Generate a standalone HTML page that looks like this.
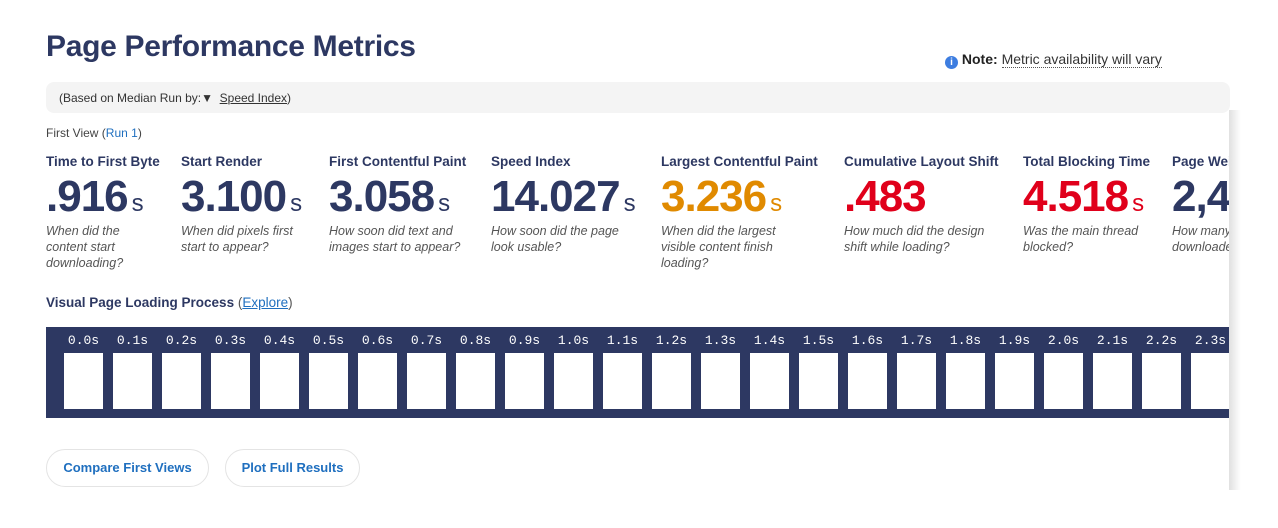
<!DOCTYPE html>
<html><head><meta charset="utf-8"><style>
*{margin:0;padding:0;box-sizing:border-box}
body{width:1278px;height:528px;background:#fff;font-family:"Liberation Sans",sans-serif;color:#2d3862;position:relative;overflow:hidden}
.a{position:absolute;white-space:nowrap}
h1{position:absolute;left:46px;top:30px;font-size:30px;font-weight:bold;color:#2d3862;letter-spacing:-0.3px}
.bar{position:absolute;left:46px;top:82px;width:1184px;height:31px;background:#f4f4f4;border-radius:8px}
.m{position:absolute;top:154px}
.m .h{font-size:13.5px;font-weight:bold;white-space:nowrap;height:17px}
.m .v{font-size:44px;font-weight:bold;line-height:44px;height:44px;margin-top:4px;letter-spacing:-1px;white-space:nowrap}
.m .v span{font-size:24px;font-weight:normal;letter-spacing:0;margin-left:4px;line-height:0}
.m .d{font-size:12.5px;font-style:italic;color:#555;line-height:16px;margin-top:4px}
.fs{position:absolute;left:46px;top:327px;width:1184px;height:91px;background:#2d3862;overflow:hidden}
.fr{position:absolute;top:26px;width:39px;height:56px;background:#fff}
.lb{position:absolute;top:6px;width:49px;text-align:center;color:#fff;font-family:"Liberation Mono",monospace;font-size:13px}
.btn{position:absolute;top:449px;height:38px;border:1px solid #e4e4e4;border-radius:19px;font-size:13px;font-weight:bold;color:#1f6fbf;line-height:36px;text-align:center}
.shade{position:absolute;left:1229px;top:110px;width:49px;height:380px;background:linear-gradient(to right,rgba(0,0,0,0.12),rgba(255,255,255,0) 12px),#fff}
</style></head><body>
<h1>Page Performance Metrics</h1>
<div class="a" style="left:945px;top:51px;font-size:14px;color:#333"><span style="display:inline-block;width:13px;height:13px;border-radius:50%;background:#3d7de0;color:#fff;font-size:10px;text-align:center;line-height:13px;font-weight:bold;vertical-align:-1px">i</span> <b style="color:#222">Note:</b> <span style="border-bottom:1px dotted #555">Metric availability will vary</span></div>
<div class="bar"></div>
<div class="a" style="left:59px;top:91px;font-size:12px;color:#333">(Based on Median Run by:▼ &nbsp;<span style="text-decoration:underline">Speed Index</span>)</div>
<div class="a" style="left:46px;top:126px;font-size:12px;color:#444">First View (<span style="color:#1f6fbf">Run 1</span>)</div>

<div class="m" style="left:46px"><div class="h">Time to First Byte</div><div class="v">.916<span>s</span></div><div class="d">When did the<br>content start<br>downloading?</div></div>
<div class="m" style="left:181px"><div class="h">Start Render</div><div class="v">3.100<span>s</span></div><div class="d">When did pixels first<br>start to appear?</div></div>
<div class="m" style="left:329px"><div class="h">First Contentful Paint</div><div class="v">3.058<span>s</span></div><div class="d">How soon did text and<br>images start to appear?</div></div>
<div class="m" style="left:491px"><div class="h">Speed Index</div><div class="v">14.027<span>s</span></div><div class="d">How soon did the page<br>look usable?</div></div>
<div class="m" style="left:661px"><div class="h">Largest Contentful Paint</div><div class="v" style="color:#e08a00">3.236<span>s</span></div><div class="d">When did the largest<br>visible content finish<br>loading?</div></div>
<div class="m" style="left:844px"><div class="h">Cumulative Layout Shift</div><div class="v" style="color:#e0001b">.483</div><div class="d">How much did the design<br>shift while loading?</div></div>
<div class="m" style="left:1023px"><div class="h">Total Blocking Time</div><div class="v" style="color:#e0001b">4.518<span>s</span></div><div class="d">Was the main thread<br>blocked?</div></div>
<div class="m" style="left:1172px"><div class="h">Page Weight</div><div class="v">2,446<span>KB</span></div><div class="d">How many bytes<br>downloaded?</div></div>

<div class="a" style="left:46px;top:295px;font-size:13.5px;font-weight:bold">Visual Page Loading Process <span style="font-weight:normal;color:#555">(<span style="color:#1f6fbf;text-decoration:underline">Explore</span>)</span></div>
<div class="fs" id="fs"></div>
<div class="shade"></div>
<div class="btn" style="left:46px;width:163px">Compare First Views</div>
<div class="btn" style="left:225px;width:135px">Plot Full Results</div>
<script>
var fs=document.getElementById('fs'),h='';
for(var i=0;i<25;i++){var x=18+i*49;h+='<div class="lb" style="left:'+(x-5)+'px">'+(i/10).toFixed(1)+'s</div><div class="fr" style="left:'+x+'px"></div>';}
fs.innerHTML=h;
</script>
</body></html>
